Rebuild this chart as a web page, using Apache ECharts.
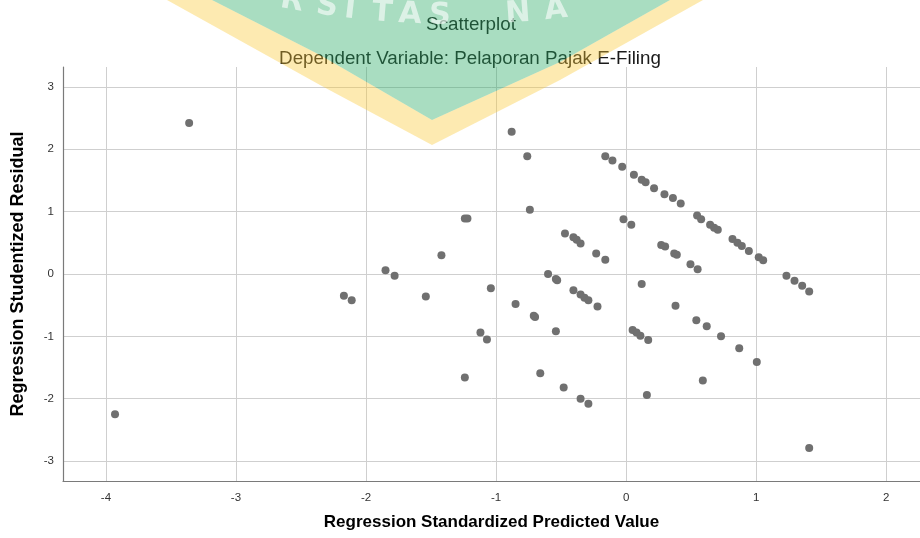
<!DOCTYPE html>
<html><head><meta charset="utf-8">
<script src="https://cdn.jsdelivr.net/npm/echarts@6/dist/echarts.min.js"></script>
<style>html,body{margin:0;padding:0;background:#fff}#c{width:920px;height:538px}</style>
</head><body><div id="c"></div>
<script>
// Regression Standardized Predicted Value (x) and Regression Studentized Residual (y)
const predictedValues = [
  -3.36, -3.93, -2.17, -2.11, -1.85, -1.78, -1.54, -1.42, -1.24, -1.22,
  -1.24, -1.12, -1.07, -1.04, -0.88, -0.85, -0.76, -0.74, -0.71, -0.70,
  -0.66, -0.60, -0.54, -0.53, -0.54, -0.48, -0.47, -0.405, -0.38, -0.35,
  -0.405, -0.35, -0.32, -0.29, -0.35, -0.29, -0.23, -0.22, -0.16, -0.16,
  -0.105, -0.03, -0.02, 0.04, 0.05, 0.08, 0.11, 0.17, 0.16, 0.06,
  0.12, 0.15, 0.215, 0.295, 0.36, 0.42, 0.12, 0.27, 0.30, 0.37,
  0.39, 0.38, 0.495, 0.55, 0.54, 0.62, 0.73, 0.87, 1.005, 0.59,
  0.546, 0.577, 0.646, 0.677, 0.705, 0.818, 0.856, 0.89, 0.944, 1.02,
  1.054, 1.233, 1.295, 1.354, 1.408, 1.408
];
const studentizedResiduals = [
  2.42, -2.25, -0.35, -0.42, 0.06, -0.03, -0.36, 0.30, 0.89, 0.89,
  -1.66, -0.94, -1.05, -0.23, 2.28, -0.48, 1.89, 1.03, -0.67, -0.69,
  -1.59, 0.00, -0.08, -0.10, -0.92, -1.82, 0.65, 0.59, 0.55, 0.49,
  -0.26, -0.33, -0.38, -0.42, -2.00, -2.08, 0.33, -0.52, 0.23, 1.89,
  1.82, 1.72, 0.88, 0.79, -0.90, -0.94, -0.99, -1.06, -1.94, 1.59,
  1.51, 1.47, 1.375, 1.28, 1.22, 1.13, -0.16, 0.465, 0.44, 0.33,
  0.31, -0.51, 0.155, 0.075, -0.74, -0.84, -1.00, -1.19, -1.41, -1.71,
  0.94, 0.88, 0.79, 0.74, 0.71, 0.56, 0.50, 0.45, 0.37, 0.27,
  0.22, -0.03, -0.11, -0.19, -0.28, -2.79
];
const xTickLabels = ['-4', '-3', '-2', '-1', '0', '1', '2'];
const yTickLabels = ['-3', '-2', '-1', '0', '1', '2', '3'];
const chartTitle = 'Scatterplot';
const chartSubtitle = 'Dependent Variable: Pelaporan Pajak E-Filing';
const xAxisTitle = 'Regression Standardized Predicted Value';
const yAxisTitle = 'Regression Studentized Residual';

const points = predictedValues.map((x, i) => [x, studentizedResiduals[i]]);

// watermark letters (decoration)
const wmLetters = ['R','S','I','T','A','S','N','A'];
const wmX = [292, 327, 350, 382, 410, 440, 518, 556];
const wmCx = 455, wmR = 900, wmCy = 20 - 900;
const letterEls = wmLetters.map((ch, i) => {
  const phi = Math.asin((wmX[i] - wmCx) / wmR);
  return {
    type: 'text', z: 102, x: wmX[i], y: wmCy + wmR * Math.cos(phi) - 4, rotation: phi,
    style: { text: ch, fill: 'rgba(255,255,255,0.6)', font: 'bold 30px "DejaVu Sans"',
             textAlign: 'center', textVerticalAlign: 'middle' }
  };
});

const chart = echarts.init(document.getElementById('c'), null, { renderer: 'canvas' });
const font = 'Liberation Sans';
const tickFmt = labels => v => {
  const r = Math.round(v);
  return Math.abs(v - r) < 1e-6 && labels.includes(String(r)) ? String(r) : '';
};
chart.setOption({
  animation: false,
  backgroundColor: '#fff',
  title: [
    { text: chartTitle, left: 466, top: 10, textAlign: 'center',
      textStyle: { fontFamily: font, fontSize: 18.8, fontWeight: 'normal', color: '#1a1a1a' } },
    { text: chartSubtitle, left: 465, top: 44, textAlign: 'center',
      textStyle: { fontFamily: font, fontSize: 18.8, fontWeight: 'normal', color: '#1a1a1a' } }
  ],
  grid: { left: 63, right: 0, top: 67, bottom: 57 },
  xAxis: {
    type: 'value', min: -4.33, max: 2.26, minInterval: 1, maxInterval: 1,
    name: xAxisTitle, nameLocation: 'middle', nameGap: 33,
    nameTextStyle: { fontFamily: font, fontSize: 17, fontWeight: 'bold', color: '#000' },
    axisLine: { show: true, onZero: false, lineStyle: { color: '#7a7a7a', width: 1.2 } },
    axisTick: { show: false },
    axisLabel: { color: '#333', fontFamily: font, fontSize: 11.5, margin: 11,
      showMinLabel: false, showMaxLabel: false, formatter: tickFmt(xTickLabels) },
    splitLine: { show: true, showMinLine: false, showMaxLine: false, lineStyle: { color: '#cfcfcf', width: 1 } }
  },
  yAxis: {
    type: 'value', min: -3.32, max: 3.32, minInterval: 1, maxInterval: 1,
    name: yAxisTitle, nameLocation: 'middle', nameGap: 36,
    nameTextStyle: { fontFamily: font, fontSize: 18, fontWeight: 'bold', color: '#000' },
    axisLine: { show: true, onZero: false, lineStyle: { color: '#7a7a7a', width: 1.2 } },
    axisTick: { show: false },
    axisLabel: { color: '#333', fontFamily: font, fontSize: 11.5, margin: 9,
      showMinLabel: false, showMaxLabel: false, formatter: tickFmt(yTickLabels) },
    splitLine: { show: true, showMinLine: false, showMaxLine: false, lineStyle: { color: '#cfcfcf', width: 1 } }
  },
  series: [{
    type: 'scatter', data: points, symbol: 'circle', symbolSize: 8,
    itemStyle: { color: '#707070', opacity: 1 }
  }],
  graphic: [
    { type: 'polygon', z: 100, silent: true,
      shape: { points: [[167,0],[320,85],[432,145],[560,80],[703,0],[670,0],[560,62],[432,120],[320,55],[212,0]] },
      style: { fill: 'rgba(250,200,50,0.38)' } },
    { type: 'polygon', z: 101, silent: true,
      shape: { points: [[212,0],[320,55],[432,120],[560,62],[670,0]] },
      style: { fill: 'rgba(40,170,100,0.4)' } }
  ].concat(letterEls)
});
</script>
</body></html>
